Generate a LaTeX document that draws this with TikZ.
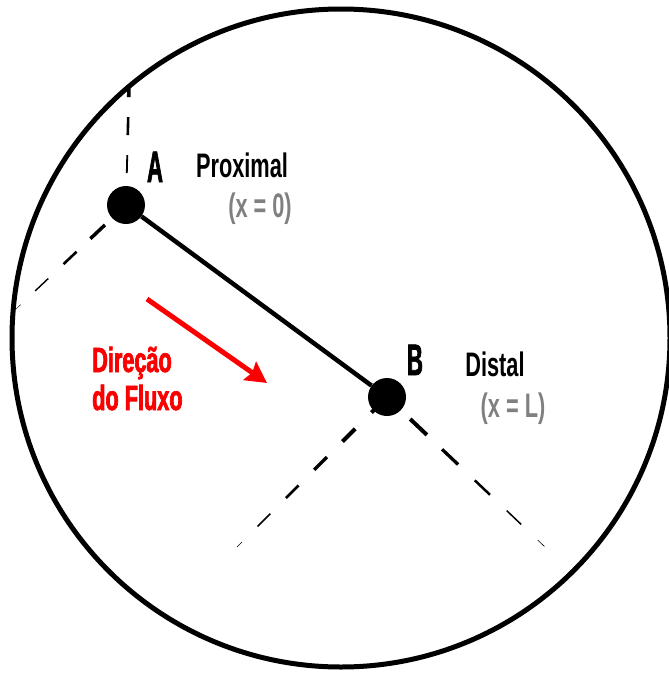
\documentclass[tikz,border=0pt]{standalone}
\usepackage{fontspec}
\usepackage{xcolor}
\usepackage{tikz}
\usetikzlibrary{positioning, arrows.meta, calc}
\newfontfamily\tagfont[FakeStretch=0.5, FakeBold=1.5]{Liberation Sans}
\newfontfamily\notefont[FakeStretch=0.64]{Liberation Sans}
\newfontfamily\flowfont[FakeStretch=0.62, FakeBold=2]{Liberation Sans}
\definecolor{notegray}{RGB}{128,128,128}
\definecolor{flowred}{RGB}{250,0,0}

\begin{document}
\begin{tikzpicture}[
  x=1pt, y=-1pt,
  rim/.style={line width=5pt, black},
  dot/.style={circle, fill=black, minimum size=38pt, inner sep=0pt},
  link/.style={line width=4.5pt, black},
  guide/.style={black, line cap=butt},
  flow/.style={-{Stealth[length=21pt,width=22pt,inset=3pt]}, line width=5pt, color=flowred},
  tag/.style={font=\tagfont\bfseries\fontsize{44}{44}\selectfont, inner sep=0pt, anchor=base},
  note/.style={font=\notefont\bfseries\fontsize{34}{34}\selectfont, inner sep=0pt, anchor=base},
  flownote/.style={font=\flowfont\bfseries\fontsize{35}{35}\selectfont, inner sep=0pt,
    anchor=base west, text=flowred},
]
\useasboundingbox (0,0) rectangle (669,675);

% Outer boundary
\draw[rim] (341,338) circle[radius=329pt];

% Points
\node[dot] (A) at (126,205) {};
\node[dot] (B) at (387,397) {};
\draw[link] (A) -- (B);

% Guide lines
\coordinate (aup) at (129,86);
\coordinate (alow) at (15,310);
\coordinate (blow) at (237,547);
\coordinate (bright) at (545,547);
\foreach \s/\e/\w in {32pt/50pt/1.8, 70pt/88pt/2.6, 108pt/120pt/3.6}
  \draw[guide, line width=\w pt] ($(A)!\s!(aup)$) -- ($(A)!\e!(aup)$);
\foreach \s/\e/\w in {29pt/49pt/3.5, 68pt/86pt/2.6, 107pt/125pt/1.4, 145pt/152pt/0.4}
  \draw[guide, line width=\w pt] ($(A)!\s!(alow)$) -- ($(A)!\e!(alow)$);
\foreach \s/\e/\w in {4pt/22pt/4, 45pt/63pt/4, 85pt/103pt/3.4, 125pt/143pt/2.6, 165pt/183pt/1.5, 205pt/212pt/0.6}
  \draw[guide, line width=\w pt] ($(B)!\s!(blow)$) -- ($(B)!\e!(blow)$);
\foreach \s/\e/\w in {32pt/55pt/4, 76pt/98pt/3.3, 121pt/142pt/2.5, 165pt/185pt/1.5, 208pt/217pt/0.6}
  \draw[guide, line width=\w pt] ($(B)!\s!(bright)$) -- ($(B)!\e!(bright)$);

% Flow direction
\coordinate (flowtail) at (147,299);
\coordinate (flowtip) at (267,383);
\draw[flow] (flowtail) -- (flowtip);
\node[flownote] (dir1) at (92,372) {Direção};
\node[flownote] (dir2) at (92,410) {do Fluxo};

% Labels
\node[tag] (tagA) at (155,182) {A};
\node[tag] (tagB) at (415,375) {B};
\node[note] (prox) at (242,177) {Proximal};
\node[note, text=notegray] (proxx) at (260,217) {(x = 0)};
\node[note] (dist) at (495,376) {Distal};
\node[note, text=notegray] (distx) at (513,417) {(x = L)};

\end{tikzpicture}
\end{document}
